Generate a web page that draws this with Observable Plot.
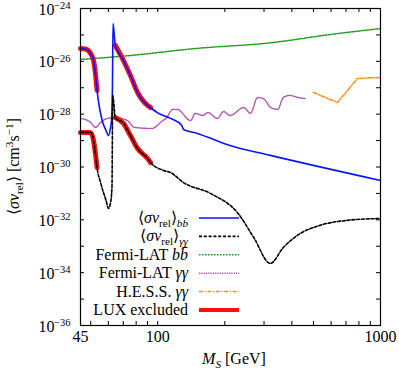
<!DOCTYPE html>
<html><head><meta charset="utf-8">
<script src="https://cdn.jsdelivr.net/npm/d3@7"></script>
<script src="https://cdn.jsdelivr.net/npm/@observablehq/plot@0.6"></script>
<style>
body{margin:0;background:#fff;}
#chart{position:relative;width:399px;height:374px;}
#chart svg, #chart svg text{font-family:"Liberation Serif","Times New Roman",serif !important;}
#chart svg{overflow:visible;}
</style>
</head><body><div id="chart"></div>
<script>
// ---- data (masses in GeV, cross sections as log10 of cm^3 s^-1) ----
const bbMass = [45,47,48.8,50.3,51.5,52.5,53.4,56.3,58.6,60.1,61.3,62.0,62.6,63.0,64.5,70.2,75.4,81.2,90,92.8,99.6,114.1,128,130.5,150.6,210.9,320.2,1000];
const bbLog  = [-25.51,-25.53,-25.59,-25.75,-25.97,-26.46,-27.1,-28.24,-28.62,-28.81,-28.54,-28.24,-27.0,-24.57,-25.40,-25.97,-26.54,-27.18,-27.67,-27.75,-27.94,-28.16,-28.42,-28.58,-28.73,-29.19,-29.56,-30.51];

const ggMass = [45,49.9,51.5,52.5,53.4,55.5,58.6,60.1,61.3,62.3,62.8,64.5,70.2,75.4,81.2,90,92.8,106.2,114.1,130.5,172.3,229.6,269.7,320.2,366,423,535,710,1000];
const ggLog  = [-28.69,-28.69,-29.0,-29.49,-30.02,-30.62,-31.27,-31.57,-31.38,-30.78,-27.29,-28.13,-28.35,-28.81,-29.30,-29.68,-29.83,-30.13,-30.21,-30.59,-31.0,-31.76,-32.67,-33.65,-33.05,-32.59,-32.21,-32.02,-31.95];

const fermiBbMass = [45,75,150,320,600,1000];
const fermiBbLog  = [-25.93,-25.78,-25.51,-25.30,-24.98,-24.76];

const fermiGgMass = [45,49.9,52.5,55.5,59.5,64.5,73.1,78.6,94.1,105.4,108.9,116.9,122.2,140.5,147.2,159.1,168.2,185.2,197.3,211,243.6,260.6,280.8,297.6,322,345.5,366,390.5,428,459];
const fermiGgLog  = [-28.16,-28.31,-28.50,-28.31,-28.16,-28.13,-28.24,-28.50,-28.54,-28.24,-28.16,-27.82,-27.82,-28.24,-27.97,-28.05,-27.94,-28.16,-27.90,-28.05,-27.75,-27.97,-27.37,-27.41,-27.75,-27.82,-27.37,-27.29,-27.37,-27.41];

const hessMass = [500,641,788,1000];
const hessLog  = [-27.18,-27.56,-26.65,-26.61];

const luxRanges = [[45,53.4],[64.5,92.8]];

const xTickLabels = [45,100,1000];
const xTicks = [50,60,70,80,90,100,200,300,400,500,600,700,800,900];
const yTickExps = [-35,-34,-33,-32,-31,-30,-29,-28,-27,-26,-25];
const yLabelExps = [-36,-34,-32,-30,-28,-26,-24];

const legendLabels = ["bb","gg","fermiBb","fermiGg","hess","lux"];

// ---- layout ----
const W = 399, H = 374, mL = 80, mR = 19, mT = 8, mB = 49;
const fw = W - mL - mR, fh = H - mT - mB, tk = 4;
const FONT = '"Liberation Serif", "Times New Roman", serif';

const rows = (ms, ls) => ms.map((m, i) => ({m, v: Math.pow(10, ls[i])}));
const bb = rows(bbMass, bbLog), gg = rows(ggMass, ggLog);
const fbb = rows(fermiBbMass, fermiBbLog), fgg = rows(fermiGgMass, fermiGgLog);
const hess = rows(hessMass, hessLog);
const lux = [];
luxRanges.forEach(([a, b], j) => {
  bb.filter(d => d.m >= a && d.m <= b).forEach(d => lux.push({...d, seg: "bb" + j}));
  gg.filter(d => d.m >= a && d.m <= b).forEach(d => lux.push({...d, seg: "gg" + j}));
});

const styles = {
  bb: {stroke: "#0a14ff", strokeWidth: 1.6},
  gg: {stroke: "#000", strokeWidth: 1.6, strokeDasharray: "3,1.8"},
  fermiBb: {stroke: "#1e9a1e", strokeWidth: 1.5, strokeDasharray: "1.6,1.4"},
  fermiGg: {stroke: "#b450b4", strokeWidth: 1.4, strokeDasharray: "1.3,1.0"},
  hess: {stroke: "#ff8c14", strokeWidth: 1.5, strokeDasharray: "4,1.6,1.2,1.6"},
  lux: {stroke: "#ff1010", strokeWidth: 5}
};

const curve = "monotone-x";
const plot = Plot.plot({
  width: W, height: H,
  marginLeft: mL, marginRight: mR, marginTop: mT, marginBottom: mB,
  style: {fontFamily: FONT, fontSize: "16px", background: "#fff", color: "#000", overflow: "visible"},
  x: {type: "log", domain: [45, 1000], axis: null},
  y: {type: "log", domain: [1e-36, 1e-24], axis: null},
  marks: [
    Plot.line(fbb, {x: "m", y: "v", curve, ...styles.fermiBb}),
    Plot.line(fgg, {x: "m", y: "v", curve, ...styles.fermiGg}),
    Plot.line(hess, {x: "m", y: "v", ...styles.hess}),
    Plot.line(lux, {x: "m", y: "v", z: "seg", curve, ...styles.lux}),
    Plot.line(bb, {x: "m", y: "v", curve, ...styles.bb}),
    Plot.line(gg, {x: "m", y: "v", curve, ...styles.gg}),
    // inward ticks on all four sides
    Plot.tickX(xTicks, {x: d => d, insetTop: fh - tk, stroke: "#000"}),
    Plot.tickX(xTicks, {x: d => d, insetBottom: fh - tk, stroke: "#000"}),
    Plot.tickY(yTickExps.map(e => Math.pow(10, e)), {y: d => d, insetRight: fw - tk, stroke: "#000"}),
    Plot.tickY(yTickExps.map(e => Math.pow(10, e)), {y: d => d, insetLeft: fw - tk, stroke: "#000"}),
    Plot.frame({stroke: "#000", strokeWidth: 1.2}),
    // tick labels
    Plot.text(xTickLabels, {x: d => d, frameAnchor: "bottom", text: d => String(d), dy: 16, fontSize: 16, fontFamily: FONT}),
    Plot.text(yLabelExps, {y: e => Math.pow(10, e), frameAnchor: "left", text: () => "10", textAnchor: "end", dx: -26, dy: 1, fontSize: 16, fontFamily: FONT}),
    Plot.text(yLabelExps, {y: e => Math.pow(10, e), frameAnchor: "left", text: e => "\u2212" + Math.abs(e), textAnchor: "end", dx: -10, dy: -3, fontSize: 10.5, fontFamily: FONT})
  ]
});
document.getElementById("chart").appendChild(plot);

// ---- rich text helpers ----
const svg = d3.select(plot.tagName.toLowerCase() === "svg" ? plot : plot.querySelector("svg"));
svg.style("font-family", FONT).style("overflow", "visible");
function rich(sel, parts, base) {
  let cur = 0;
  sel.attr("font-family", FONT).style("font-family", FONT);
  parts.forEach(p => {
    const shift = p.sub ? 4 : p.sup ? -6 : 0;
    const ts = sel.append("tspan").text(p.t);
    if (shift !== cur) { ts.attr("dy", shift - cur); cur = shift; }
    if (p.i) ts.attr("font-style", "italic");
    if (p.sub || p.sup) ts.attr("font-size", base * 0.7);
  });
}
const sv = [{t: "\u27E8"}, {t: "\u03C3v", i: true}, {t: "rel", sub: true}, {t: "\u27E9"}];
const legendText = {
  bb: [...sv, {t: "b\u0062\u0304", i: true, sub: true}],
  gg: [...sv, {t: "\u03B3\u03B3", i: true, sub: true}],
  fermiBb: [{t: "Fermi-LAT "}, {t: "b\u0062\u0304", i: true}],
  fermiGg: [{t: "Fermi-LAT "}, {t: "\u03B3\u03B3", i: true}],
  hess: [{t: "H.E.S.S. "}, {t: "\u03B3\u03B3", i: true}],
  lux: [{t: "LUX excluded"}]
};

const lg = svg.append("g");
const rowY0 = 218, rowDy = 18.4, textX = 188, lineX1 = 199, lineX2 = 239;
legendLabels.forEach((k, i) => {
  const y = rowY0 + i * rowDy;
  const t = lg.append("text").attr("x", textX).attr("y", y + 5).attr("text-anchor", "end")
    .attr("font-size", 16).attr("fill", "#000");
  rich(t, legendText[k], 16);
  const s = styles[k];
  lg.append("line").attr("x1", lineX1).attr("x2", lineX2).attr("y1", y).attr("y2", y)
    .attr("stroke", s.stroke).attr("stroke-width", k === "lux" ? 4 : s.strokeWidth)
    .attr("stroke-dasharray", s.strokeDasharray || null);
});

// axis titles
const yl = svg.append("text").attr("transform", `translate(19,${mT + fh / 2}) rotate(-90)`)
  .attr("text-anchor", "middle").attr("font-size", 16);
rich(yl, [{t: "\u27E8"}, {t: "\u03C3v", i: true}, {t: "rel", sub: true}, {t: "\u27E9 [cm"}, {t: "3", sup: true}, {t: "s"}, {t: "\u22121", sup: true}, {t: "]"}], 16);

const xl = svg.append("text").attr("x", mL + fw / 2 + 4).attr("y", 364)
  .attr("text-anchor", "middle").attr("font-size", 16);
rich(xl, [{t: "M", i: true}, {t: "S", i: true, sub: true}, {t: " [GeV]"}], 16);
</script>
</body></html>
